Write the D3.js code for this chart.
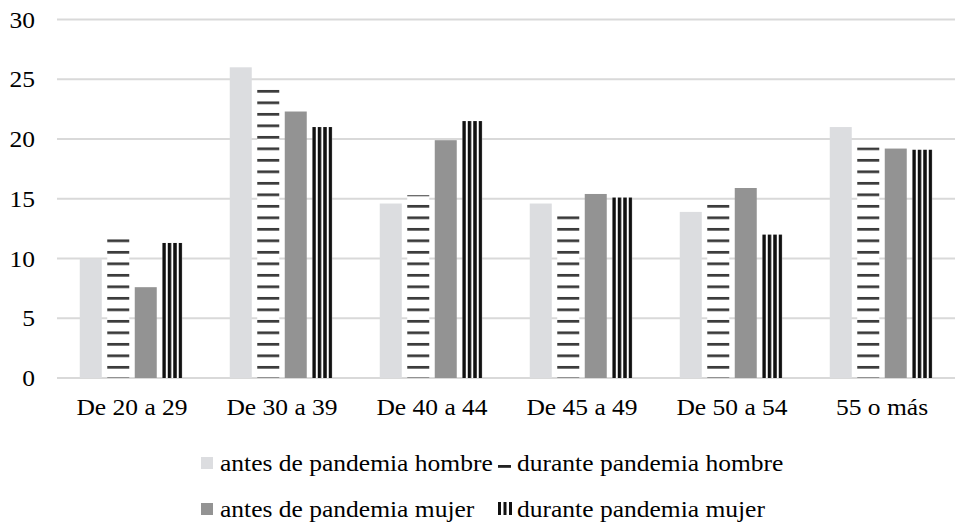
<!DOCTYPE html>
<html><head><meta charset="utf-8">
<script src="https://cdn.jsdelivr.net/npm/d3@7"></script>
</head><body style="margin:0"><svg id="c" width="958" height="523" font-family="Liberation Serif"></svg>
<script>
const categories = ["De 20 a 29","De 30 a 39","De 40 a 44","De 45 a 49","De 50 a 54","55 o más"];
const seriesNames = ["antes de pandemia hombre","durante pandemia hombre","antes de pandemia mujer","durante pandemia mujer"];
const antesHombre = [10.0, 26.0, 14.6, 14.6, 13.9, 21.0];
const duranteHombre = [11.7, 24.2, 15.3, 13.6, 14.6, 19.3];
const antesMujer = [7.6, 22.3, 19.9, 15.4, 15.9, 19.2];
const duranteMujer = [11.3, 21.0, 21.5, 15.1, 12.0, 19.1];
const yTicks = [0,5,10,15,20,25,30];

const series = [antesHombre, duranteHombre, antesMujer, duranteMujer];
const svg = d3.select("#c");
const defs = svg.append("defs");
const FS = 23, SX = 1.11;

function txt(sel, x, yy, s, anchor) {
  return sel.append("text")
    .attr("transform", `translate(${x},${yy}) scale(${SX},1)`)
    .attr("text-anchor", anchor || "start")
    .style("font-family", '"Liberation Serif"').attr("font-size", FS)
    .text(s);
}

const x0 = d3.scaleBand().domain(categories).range([57, 957]).padding(0);
const x1 = d3.scaleBand().domain(d3.range(4)).range([0, 110]).paddingInner(0.2).paddingOuter(0.1);
const y = d3.scaleLinear().domain([0, 30]).range([378, 19.5]);

// horizontal dash pattern (user space)
const hp = defs.append("pattern").attr("id","hdash").attr("patternUnits","userSpaceOnUse")
  .attr("width", 40).attr("height", 11.5).attr("y", 367.3 - 1.35);
hp.append("rect").attr("width",40).attr("height",11.5).attr("fill","#fff");
hp.append("rect").attr("width",40).attr("height",2.7).attr("fill","#3a3a3a");

// gridlines
svg.append("g").selectAll("line").data(yTicks).join("line")
  .attr("x1", 57).attr("x2", 955).attr("y1", d=>y(d)).attr("y2", d=>y(d))
  .attr("stroke","#d9d9d9").attr("stroke-width",2);

// y labels
const yl = svg.append("g");
yTicks.forEach(d => txt(yl, 35, y(d) + 8, String(d), "end"));

const fills = ["#dcdde0", "url(#hdash)", "#939393", null];
const g = svg.append("g");
series.forEach((vals, si) => {
  vals.forEach((v, ci) => {
    const bx = x0(categories[ci]) + 20 + x1(si);
    const bw = x1.bandwidth();
    const top = y(v), h = y(0) - y(v);
    if (si === 3) {
      const pid = "vs" + ci;
      const p = defs.append("pattern").attr("id", pid).attr("patternUnits","userSpaceOnUse")
        .attr("x", bx).attr("width", 5.5).attr("height", 10);
      p.append("rect").attr("width",5.5).attr("height",10).attr("fill","#fff");
      p.append("rect").attr("width",3.5).attr("height",10).attr("fill","#111");
      g.append("rect").attr("x", bx).attr("y", top).attr("width", 20).attr("height", h).attr("fill", `url(#${pid})`);
    } else {
      g.append("rect").attr("x", bx).attr("y", top).attr("width", bw).attr("height", h).attr("fill", fills[si]);
    }
  });
});

// x labels
const xl = svg.append("g");
categories.forEach(d => txt(xl, x0(d) + x0.bandwidth()/2, 415, d, "middle"));

// legend
const leg = [
  {i:0, x:201, y:463},
  {i:1, x:498, y:463},
  {i:2, x:201, y:509},
  {i:3, x:498, y:509}
];
const lg = svg.append("g");
leg.forEach(l => {
  const s = lg.append("g").attr("transform", `translate(${l.x},${l.y})`);
  if (l.i === 0) s.append("rect").attr("x",0).attr("y",-6).attr("width",12).attr("height",12).attr("fill","#dcdde0");
  if (l.i === 2) s.append("rect").attr("x",0).attr("y",-6).attr("width",12).attr("height",12).attr("fill","#939393");
  if (l.i === 1) s.append("rect").attr("x",0).attr("y",2).attr("width",13).attr("height",2.8).attr("fill","#222");
  if (l.i === 3) [0,5.5,11].forEach(dx => s.append("rect").attr("x",dx).attr("y",-7).attr("width",3).attr("height",13).attr("fill","#111"));
  txt(s, 19, 8, seriesNames[l.i], "start");
});
</script></body></html>
